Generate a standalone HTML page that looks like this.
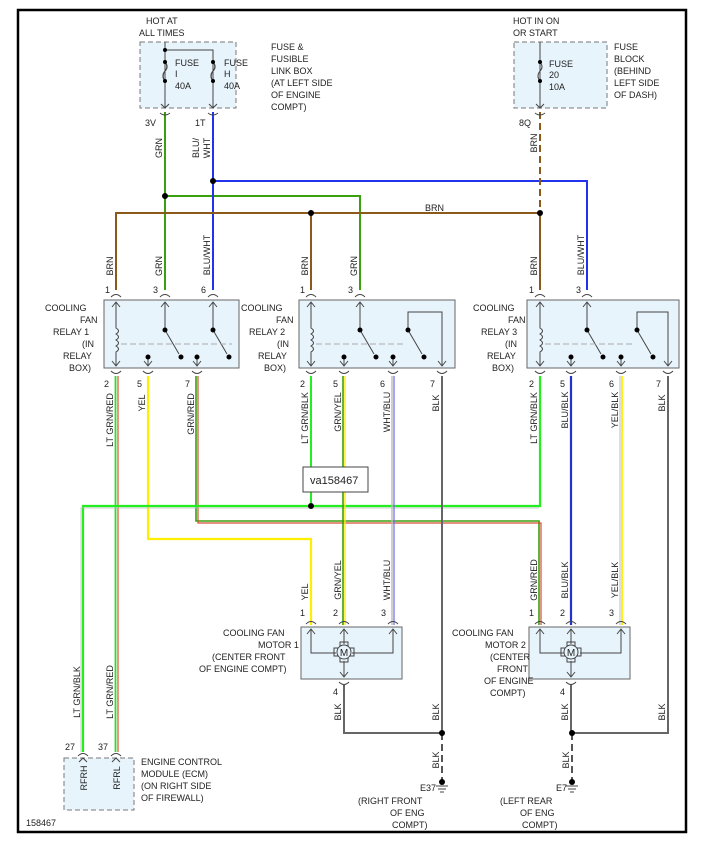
<!DOCTYPE html>
<html><head><meta charset="utf-8"><style>
body{margin:0;background:#fff}
svg{display:block}
text{font-family:"Liberation Sans",sans-serif;font-size:9px;fill:#222}
.v{text-anchor:middle}
</style></head><body>
<svg width="704" height="852" viewBox="0 0 704 852" xmlns="http://www.w3.org/2000/svg">
<rect x="18" y="10" width="668" height="822" fill="none" stroke="#000" stroke-width="2.5"/>

<!-- Fuse box 1 -->
<rect x="140" y="42" width="96" height="66" fill="#e8f4fc" stroke="#777" stroke-dasharray="5,3"/>
<g stroke="#444" fill="none" stroke-width="1">
<path d="M165 42V108M165 50H213V108"/>
<path d="M165 62q4 5 0 9q-4 5 0 10M213 62q4 5 0 9q-4 5 0 10" stroke="#444" stroke-width="1.2"/>
</g>
<circle cx="165" cy="50" r="2" fill="#000"/>
<circle cx="165" cy="62" r="2" fill="#000"/><circle cx="165" cy="81" r="2" fill="#000"/>
<circle cx="213" cy="62" r="2" fill="#000"/><circle cx="213" cy="81" r="2" fill="#000"/>
<text x="175" y="66">FUSE</text><text x="175" y="77">I</text><text x="175" y="89">40A</text>
<text x="224" y="66">FUSE</text><text x="224" y="77">H</text><text x="224" y="89">40A</text>
<text x="146" y="24">HOT AT</text><text x="139" y="36">ALL TIMES</text>
<text x="271" y="50">FUSE &amp;</text><text x="271" y="62">FUSIBLE</text><text x="271" y="74">LINK BOX</text><text x="271" y="86">(AT LEFT SIDE</text><text x="271" y="98">OF ENGINE</text><text x="271" y="110">COMPT)</text>
<text x="145" y="126">3V</text><text x="195" y="126">1T</text>

<!-- Fuse block 2 -->
<rect x="514" y="42" width="93" height="66" fill="#e8f4fc" stroke="#777" stroke-dasharray="5,3"/>
<path d="M540 42V108M540 62q4 5 0 9q-4 5 0 10" stroke="#444" fill="none"/>
<circle cx="540" cy="62" r="2" fill="#000"/><circle cx="540" cy="81" r="2" fill="#000"/>
<text x="549" y="67">FUSE</text><text x="549" y="78">20</text><text x="549" y="90">10A</text>
<text x="513" y="24">HOT IN ON</text><text x="513" y="36">OR START</text>
<text x="614" y="50">FUSE</text><text x="614" y="62">BLOCK</text><text x="614" y="74">(BEHIND</text><text x="614" y="86">LEFT SIDE</text><text x="614" y="98">OF DASH)</text>
<text x="519" y="126">8Q</text>

<!-- Upper wires -->
<g fill="none" stroke-width="2">
<path d="M165 112V290M165 196H360V290" stroke="#3aa010"/>
<path d="M213 112V290M213 181H587V290" stroke="#2233ee"/>
<path d="M116 290V213H540V290M311 213V290" stroke="#8b5a1a"/>
<path d="M540 112V213" stroke="#8b5a1a" stroke-dasharray="7,4"/>
</g>
<g fill="#000"><circle cx="165" cy="196" r="3"/><circle cx="213" cy="181" r="3"/><circle cx="311" cy="213" r="3"/><circle cx="540" cy="213" r="3"/></g>
<text x="425" y="211">BRN</text>
<text class="v" transform="translate(162,148) rotate(-90)">GRN</text>
<text class="v" transform="translate(199,148) rotate(-90)">BLU/</text>
<text class="v" transform="translate(210,148) rotate(-90)">WHT</text>
<text class="v" transform="translate(537,143) rotate(-90)">BRN</text>
<text class="v" transform="translate(113,266) rotate(-90)">BRN</text>
<text class="v" transform="translate(162,266) rotate(-90)">GRN</text>
<text class="v" transform="translate(210,255) rotate(-90)">BLU/WHT</text>
<text class="v" transform="translate(308,266) rotate(-90)">BRN</text>
<text class="v" transform="translate(357,266) rotate(-90)">GRN</text>
<text class="v" transform="translate(537,266) rotate(-90)">BRN</text>
<text class="v" transform="translate(584,255) rotate(-90)">BLU/WHT</text>
<text x="105" y="293">1</text><text x="153" y="293">3</text><text x="201" y="293">6</text>
<text x="300" y="293">1</text><text x="348" y="293">3</text>
<text x="529" y="293">1</text><text x="576" y="293">3</text>

<!-- Relays -->
<g stroke="#666" fill="#e8f4fc"><rect x="104" y="300" width="135" height="68"/><rect x="299" y="300" width="156" height="68"/><rect x="527" y="300" width="152" height="68"/></g>
<g fill="none" stroke="#444" stroke-width="1">
<path d="M116 302V328q5 3 0 6q5 3 0 6q5 3 0 6q5 3 0 6V366"/>
<path d="M165 302V330L179 354M213 302V330L227 354M148 357V366M197 357V366"/>
<path d="M311 302V328q5 3 0 6q5 3 0 6q5 3 0 6q5 3 0 6V366"/>
<path d="M360 302V330L374 354M408 330V312H442V366M344 357V366M393 357V366M408 330L422 354"/>
<path d="M540 302V328q5 3 0 6q5 3 0 6q5 3 0 6q5 3 0 6V366"/>
<path d="M587 302V330L601 354M637 330V312H668V366M571 357V366M621 357V366M637 330L651 354"/>
</g>
<g stroke="#aaa" stroke-dasharray="6,3"><path d="M121 344H232M316 344H405M545 344H634"/></g>
<g fill="#000">
<circle cx="165" cy="330" r="2.5"/><circle cx="181" cy="357" r="2.5"/><circle cx="148" cy="357" r="2.5"/><circle cx="213" cy="330" r="2.5"/><circle cx="229" cy="357" r="2.5"/><circle cx="197" cy="357" r="2.5"/>
<circle cx="360" cy="330" r="2.5"/><circle cx="376" cy="357" r="2.5"/><circle cx="344" cy="357" r="2.5"/><circle cx="408" cy="330" r="2.5"/><circle cx="424" cy="357" r="2.5"/><circle cx="393" cy="357" r="2.5"/>
<circle cx="587" cy="330" r="2.5"/><circle cx="603" cy="357" r="2.5"/><circle cx="571" cy="357" r="2.5"/><circle cx="637" cy="330" r="2.5"/><circle cx="653" cy="357" r="2.5"/><circle cx="621" cy="357" r="2.5"/>
</g>
<g fill="none" stroke="#444" stroke-width="1">
<path d="M112 307L116 302L120 307M161 307L165 302L169 307M209 307L213 302L217 307M307 307L311 302L315 307M356 307L360 302L364 307M536 307L540 302L544 307M583 307L587 302L591 307"/>
<path d="M111 297Q116 292 121 297M160 297Q165 292 170 297M208 297Q213 292 218 297M306 297Q311 292 316 297M355 297Q360 292 365 297M535 297Q540 292 545 297M582 297Q587 292 592 297"/>
<path d="M112 361L116 366L120 361M144 361L148 366L152 361M193 361L197 366L201 361M307 361L311 366L315 361M340 361L344 366L348 361M389 361L393 366L397 361M438 361L442 366L446 361M536 361L540 366L544 361M567 361L571 366L575 361M617 361L621 366L625 361M664 361L668 366L672 361"/>
<path d="M111 371Q116 376 121 371M143 371Q148 376 153 371M192 371Q197 376 202 371M306 371Q311 376 316 371M339 371Q344 376 349 371M388 371Q393 376 398 371M437 371Q442 376 447 371M535 371Q540 376 545 371M566 371Q571 376 576 371M616 371Q621 376 626 371M663 371Q668 376 673 371"/>
</g>
<g fill="none" stroke="#444"><path d="M161 104L165 108L169 104M209 104L213 108L217 104M536 104L540 108L544 104M160 113Q165 117 170 113M208 113Q213 117 218 113M535 113Q540 117 545 113"/></g>
<text x="45" y="311">COOLING</text><text x="80" y="323">FAN</text><text x="53" y="335">RELAY 1</text><text x="82" y="347">(IN</text><text x="63" y="359">RELAY</text><text x="69" y="371">BOX)</text>
<text x="241" y="311">COOLING</text><text x="276" y="323">FAN</text><text x="249" y="335">RELAY 2</text><text x="277" y="347">(IN</text><text x="258" y="359">RELAY</text><text x="264" y="371">BOX)</text>
<text x="473" y="311">COOLING</text><text x="508" y="323">FAN</text><text x="481" y="335">RELAY 3</text><text x="505" y="347">(IN</text><text x="487" y="359">RELAY</text><text x="492" y="371">BOX)</text>
<text x="104" y="387">2</text><text x="137" y="387">5</text><text x="185" y="387">7</text>
<text x="300" y="387">2</text><text x="333" y="387">5</text><text x="380" y="387">6</text><text x="430" y="387">7</text>
<text x="529" y="387">2</text><text x="560" y="387">5</text><text x="609" y="387">6</text><text x="656" y="387">7</text>

<!-- Lower wires -->
<g fill="none">
<path d="M115.5 376V752" stroke="#2ddd2d" stroke-width="1.8"/><path d="M118 376V752" stroke="#e05030" stroke-width="1.2"/>
<path d="M148 376V539H311V625" stroke="#ffee00" stroke-width="2.2"/>
<path d="M196 376V521H539V625" stroke="#3aa010" stroke-width="1.6"/><path d="M198 376V523H541V625" stroke="#d05030" stroke-width="1.2"/>
<path d="M311 376V506" stroke="#22ee22" stroke-width="2"/>
<path d="M83 752V506H540V376" stroke="#22ee22" stroke-width="2.2"/>
<path d="M81 752V508H539" stroke="#bbb" stroke-width="0.8"/>
<path d="M343 376V625" stroke="#3aa010" stroke-width="1.6"/><path d="M345 376V625" stroke="#ffee00" stroke-width="1.4"/>
<path d="M392 376V625" stroke="#bbb" stroke-width="1.4"/><path d="M394 376V625" stroke="#6a6aee" stroke-width="1.2"/>
<path d="M442 376V733" stroke="#666" stroke-width="2"/>
<path d="M571 376V625" stroke="#2233cc" stroke-width="2.2"/>
<path d="M620 376V625" stroke="#bbb" stroke-width="1"/><path d="M622 376V625" stroke="#ffee00" stroke-width="1.8"/>
<path d="M668 376V733H574" stroke="#666" stroke-width="2"/>
<path d="M344 685V733H442" stroke="#666" stroke-width="2"/>
<path d="M571 685V733" stroke="#666" stroke-width="2"/>
<path d="M442 733V782M572 733V782" stroke="#555" stroke-width="2" stroke-dasharray="7,4"/>
</g>
<rect x="303" y="467" width="65" height="25" fill="#fff" stroke="#444"/>
<text x="310" y="484" style="font-size:11px">va158467</text>
<circle cx="311" cy="506" r="3" fill="#000"/>
<g fill="#000"><circle cx="442" cy="733" r="3"/><circle cx="572" cy="733" r="3"/><circle cx="442" cy="782" r="3"/><circle cx="572" cy="782" r="3"/></g>
<g stroke="#444"><path d="M436 786H448M438 789H446M440 792H444M566 786H578M568 789H576M570 792H574"/></g>

<text class="v" transform="translate(113,420) rotate(-90)">LT GRN/RED</text>
<text class="v" transform="translate(145,403) rotate(-90)">YEL</text>
<text class="v" transform="translate(194,414) rotate(-90)">GRN/RED</text>
<text class="v" transform="translate(308,418) rotate(-90)">LT GRN/BLK</text>
<text class="v" transform="translate(341,412) rotate(-90)">GRN/YEL</text>
<text class="v" transform="translate(390,412) rotate(-90)">WHT/BLU</text>
<text class="v" transform="translate(439,403) rotate(-90)">BLK</text>
<text class="v" transform="translate(537,418) rotate(-90)">LT GRN/BLK</text>
<text class="v" transform="translate(568,410) rotate(-90)">BLU/BLK</text>
<text class="v" transform="translate(618,410) rotate(-90)">YEL/BLK</text>
<text class="v" transform="translate(665,403) rotate(-90)">BLK</text>
<text class="v" transform="translate(308,592) rotate(-90)">YEL</text>
<text class="v" transform="translate(341,580) rotate(-90)">GRN/YEL</text>
<text class="v" transform="translate(390,580) rotate(-90)">WHT/BLU</text>
<text class="v" transform="translate(537,580) rotate(-90)">GRN/RED</text>
<text class="v" transform="translate(568,580) rotate(-90)">BLU/BLK</text>
<text class="v" transform="translate(618,580) rotate(-90)">YEL/BLK</text>
<text class="v" transform="translate(341,712) rotate(-90)">BLK</text>
<text class="v" transform="translate(439,712) rotate(-90)">BLK</text>
<text class="v" transform="translate(568,712) rotate(-90)">BLK</text>
<text class="v" transform="translate(665,712) rotate(-90)">BLK</text>
<text class="v" transform="translate(439,760) rotate(-90)">BLK</text>
<text class="v" transform="translate(569,760) rotate(-90)">BLK</text>
<text class="v" transform="translate(80,692) rotate(-90)">LT GRN/BLK</text>
<text class="v" transform="translate(113,692) rotate(-90)">LT GRN/RED</text>

<!-- Motors -->
<g stroke="#666" fill="#e8f4fc"><rect x="301" y="627" width="101" height="52"/><rect x="529" y="627" width="101" height="52"/></g>
<g fill="none" stroke="#444">
<path d="M311 629V653H336M393 629V653H352M344 629V644M344 661V677"/>
<path d="M307 634L311 629L315 634M340 634L344 629L348 634M389 634L393 629L397 634M340 672L344 677L348 672"/>
<path d="M306 624Q311 619 316 624M339 624Q344 619 349 624M388 624Q393 619 398 624M339 682Q344 687 349 682"/>
<path d="M540 629V653H564M621 629V653H580M571 629V644M571 661V677"/>
<path d="M536 634L540 629L544 634M567 634L571 629L575 634M617 634L621 629L625 634M567 672L571 677L575 672"/>
<path d="M535 624Q540 619 545 624M566 624Q571 619 576 624M616 624Q621 619 626 624M566 682Q571 687 576 682"/>
<rect x="340" y="642" width="8" height="20"/><rect x="334" y="648" width="20" height="8"/>
<rect x="567" y="642" width="8" height="20"/><rect x="561" y="648" width="20" height="8"/>
</g>
<circle cx="344" cy="652" r="7" fill="#e8f4fc" stroke="#444"/><text x="344" y="656" class="v" style="font-size:10px">M</text>
<circle cx="571" cy="652" r="7" fill="#e8f4fc" stroke="#444"/><text x="571" y="656" class="v" style="font-size:10px">M</text>
<text x="300" y="616">1</text><text x="333" y="616">2</text><text x="381" y="616">3</text>
<text x="529" y="616">1</text><text x="560" y="616">2</text><text x="609" y="616">3</text>
<text x="333" y="695">4</text><text x="560" y="695">4</text>
<text x="223" y="636">COOLING FAN</text><text x="258" y="648">MOTOR 1</text><text x="212" y="660">(CENTER FRONT</text><text x="199" y="672">OF ENGINE COMPT)</text>
<text x="452" y="636">COOLING FAN</text><text x="485" y="648">MOTOR 2</text><text x="490" y="660">(CENTER</text><text x="497" y="672">FRONT</text><text x="484" y="684">OF ENGINE</text><text x="490" y="696">COMPT)</text>
<text x="420" y="791">E37</text><text x="556" y="791">E7</text>
<text x="358" y="804">(RIGHT FRONT</text><text x="390" y="816">OF ENG</text><text x="392" y="828">COMPT)</text>
<text x="500" y="804">(LEFT REAR</text><text x="520" y="816">OF ENG</text><text x="522" y="828">COMPT)</text>

<!-- ECM -->
<rect x="64" y="758" width="70" height="52" fill="#e8f4fc" stroke="#777" stroke-dasharray="5,3"/>
<g fill="none" stroke="#444"><path d="M78 756Q83 751 88 756M111 756Q116 751 121 756M79 762L83 758L87 762M112 762L116 758L120 762"/></g>
<text x="65" y="750">27</text><text x="98" y="750">37</text>
<text class="v" transform="translate(87,778) rotate(-90)">RFRH</text>
<text class="v" transform="translate(120,778) rotate(-90)">RFRL</text>
<text x="141" y="765">ENGINE CONTROL</text><text x="141" y="777">MODULE (ECM)</text><text x="141" y="789">(ON RIGHT SIDE</text><text x="141" y="801">OF FIREWALL)</text>
<text x="26" y="826">158467</text>
</svg>
</body></html>
